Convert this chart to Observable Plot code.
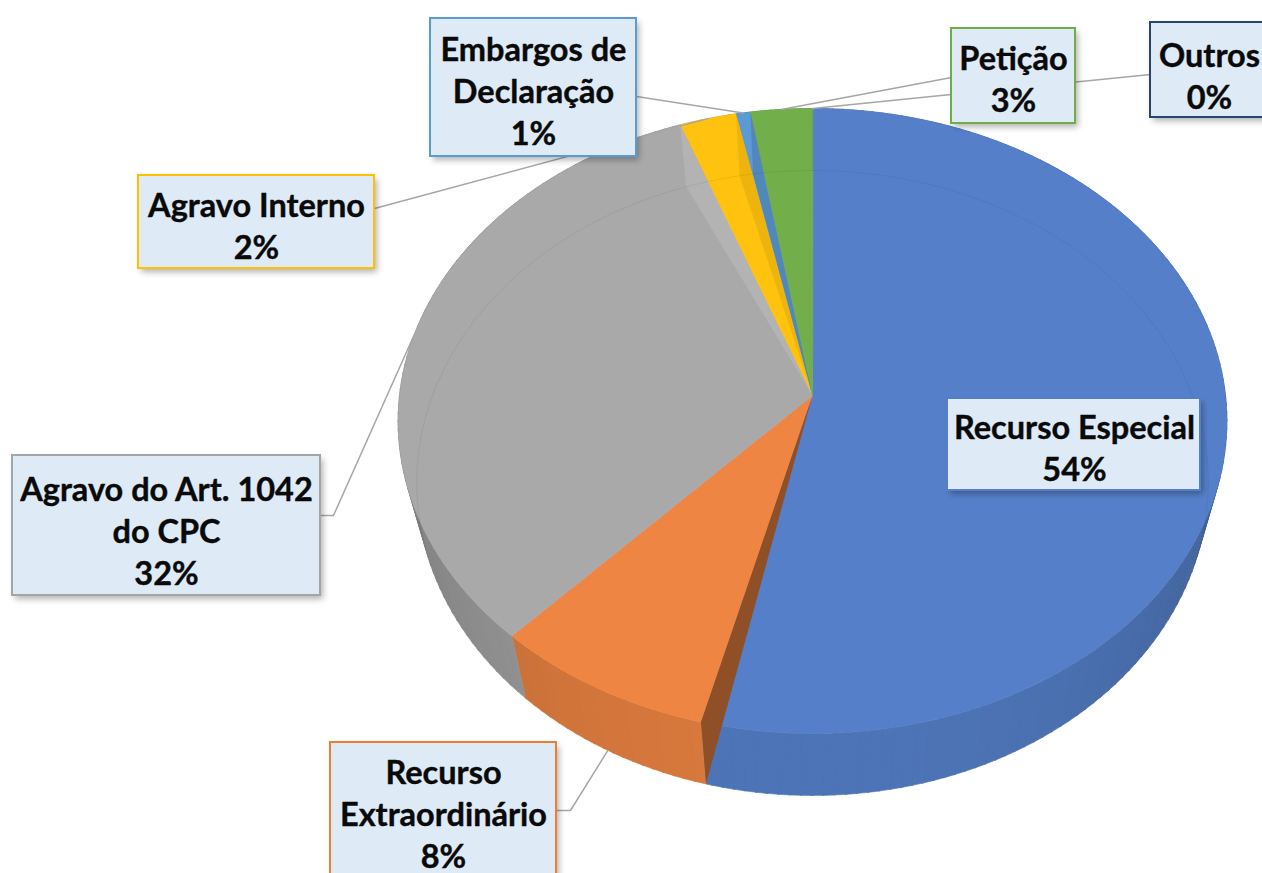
<!DOCTYPE html>
<html>
<head>
<meta charset="utf-8">
<script src="https://cdn.jsdelivr.net/npm/d3@7"></script>
<script src="https://cdn.jsdelivr.net/npm/@observablehq/plot@0.6"></script>
<style>
  html, body { margin: 0; padding: 0; background: #fff; overflow: hidden; }
  #chart svg { display: block; }
</style>
</head>
<body>
<div id="chart"></div>
<script>
// ---------- data ----------
const categories = ["Recurso Especial", "Recurso Extraordinário", "Agravo do Art. 1042 do CPC", "Agravo Interno", "Embargos de Declaração", "Petição", "Outros"];
const shares = [54.0, 8.0, 32.4, 2.4, 0.6, 2.6, 0.0];
const labelLines = ["Recurso Especial", "Recurso\nExtraordinário", "Agravo do Art. 1042\ndo CPC", "Agravo Interno", "Embargos de\nDeclaração", "Petição", "Outros"];

// ---------- styles ----------
const faceColors = ["#5580c9", "#ee8543", "#a9a9a9", "#ffc20e", "#5b9bd5", "#72ae49", "#264478"];
const borderColors = ["#5580c9", "#ed7d31", "#a5a5a5", "#ffc000", "#5b9bd5", "#70ad47", "#264478"];

// ---------- layout (pixels) ----------
const W = 1262, H = 873;
const cx = 812, cy = 395, rx = 413, ry = 310.4, persp = 0.0816, depth = 62, shrink = 0.955;
// label boxes: [x1, y1, x2, y2], text centre, label-side leader points
const labelLayout = [
  {box: [947, 398, 1200, 490], center: [1074, 446], leader: null},
  {box: [330, 742, 556, 900], center: [443, 812], leader: [[556, 810], [570, 810]], bottomRim: true},
  {box: [12, 455, 320, 595], center: [166, 529], leader: [[320, 515], [333, 515]]},
  {box: [138, 175, 374, 268], center: [256, 224], leader: [[374, 208]]},
  {box: [430, 18, 636, 156], center: [533, 89], leader: [[636, 96]]},
  {box: [951, 28, 1075, 123], center: [1013, 77], leader: [[951, 77]]},
  {box: [1150, 22, 1280, 117], center: [1209, 74], leader: [[1150, 74]]}
];

// ---------- geometry from data ----------
function topPt(t) {
  const u = Math.sin(t), v = Math.cos(t), s = 1 + persp * v;
  return [cx + rx * u / s, cy - ry * v / s];
}
function botPt(t) {
  const [x, y] = topPt(t);
  return [cx + (x - cx) * shrink, y + depth];
}
function shade(col, k) {
  const c = d3.rgb(col);
  return d3.rgb(c.r * k, c.g * k, c.b * k).formatHex();
}
const total = d3.sum(shares);
let acc = 0;
const slices = categories.map((name, i) => {
  const a0 = acc / total * 2 * Math.PI;
  acc += shares[i];
  const a1 = acc / total * 2 * Math.PI;
  return {name, i, a0, a1, value: shares[i]};
});
function arcPts(a0, a1, fn) {
  const n = Math.max(2, Math.ceil((a1 - a0) / (Math.PI / 360)) + 1);
  return d3.range(n).map(k => fn(a0 + (a1 - a0) * k / (n - 1)));
}

// side band segments with simple lighting
const sidePts = [];
slices.forEach(s => {
  if (s.a1 - s.a0 <= 0) return;
  const step = Math.PI / 120;
  for (let t = s.a0; t < s.a1 - 1e-9; t += step) {
    const t1 = Math.min(s.a1, t + step + 0.003);
    const tm = (t + t1) / 2;
    const v = Math.cos(tm);
    const k = v < 0 ? 0.7 + 0.21 * (-v) : 0.7;
    const color = shade(faceColors[s.i], k);
    const id = s.name + "-" + t.toFixed(4);
    [topPt(t), topPt(t1), botPt(t1), botPt(t)].forEach(([x, y]) => sidePts.push({id, x, y, color}));
  }
});

// top faces
const facePts = [];
slices.forEach(s => {
  if (s.a1 - s.a0 <= 0) return;
  const color = faceColors[s.i];
  facePts.push({id: s.name, x: cx, y: cy, color});
  arcPts(s.a0, s.a1, topPt).forEach(([x, y]) => facePts.push({id: s.name, x, y, color}));
});

// visible radial walls (thin slivers)
const wallSpecs = [
  {boundaryAfter: 0, colorOf: 1, k: 0.6},
  {boundaryAfter: 2, colorOf: 2, k: 1.06},
  {boundaryAfter: 3, colorOf: 3, k: 0.93},
  {boundaryAfter: 4, colorOf: 4, k: 0.88}
];
const wallPts = [];
wallSpecs.forEach((w, j) => {
  const t = slices[w.boundaryAfter].a1;
  const color = shade(faceColors[w.colorOf], w.k);
  [[cx, cy], topPt(t), botPt(t)].forEach(([x, y]) => wallPts.push({id: "w" + j, x, y, color}));
});

// faint see-through bottom rim at the back
const rimPts = arcPts(Math.PI * 1.42, Math.PI * 2.58, botPt).map(([x, y]) => ({x, y}));

// leaders
const leaderPts = [];
slices.forEach(s => {
  const L = labelLayout[s.i];
  if (!L.leader) return;
  const mid = (s.a0 + s.a1) / 2;
  const end = L.bottomRim ? botPt(mid) : topPt(mid);
  [...L.leader, end].forEach(([x, y]) => leaderPts.push({id: s.name, x, y}));
});

// labels
const labels = slices.map(s => {
  const L = labelLayout[s.i];
  const [x1, y1, x2, y2] = L.box;
  return {
    x1, y1, x2, y2,
    stroke: borderColors[s.i],
    text: labelLines[s.i] + "\n" + Math.round(s.value) + "%",
    tx: L.center[0], ty: L.center[1]
  };
});

const plot = Plot.plot({
  width: W, height: H,
  margin: 0,
  x: {domain: [0, W], range: [0, W], axis: null},
  y: {domain: [0, H], range: [0, H], axis: null},
  color: {type: "identity"},
  style: {background: "#fff", overflow: "hidden"},
  marks: [
    Plot.line(sidePts, {x: "x", y: "y", z: "id", fill: "color", stroke: "color", strokeWidth: 0.6, curve: "linear-closed"}),
    Plot.line(facePts, {x: "x", y: "y", z: "id", fill: "color", stroke: "color", strokeWidth: 0.6, curve: "linear-closed"}),
    Plot.line(wallPts, {x: "x", y: "y", z: "id", fill: "color", stroke: "none", curve: "linear-closed"}),
    Plot.line(rimPts, {x: "x", y: "y", stroke: "#000", strokeOpacity: 0.06, strokeWidth: 1}),
    Plot.line(leaderPts, {x: "x", y: "y", z: "id", stroke: "#a6a6a6", strokeWidth: 1.5}),
    Plot.rect(labels, {x1: d => d.x1 + 3, x2: d => d.x2 + 3, y1: d => d.y1 + 4, y2: d => d.y2 + 4, fill: "#000", fillOpacity: 0.3}),
    Plot.rect(labels, {x1: "x1", x2: "x2", y1: "y1", y2: "y2", fill: "#deebf7", stroke: "stroke", strokeWidth: 2}),
    Plot.text(labels, {x: "tx", y: "ty", text: "text", fontSize: 32.5, fontWeight: "bold", fontFamily: "Lato, 'Open Sans', sans-serif", lineHeight: 1.29, lineAnchor: "middle", fill: "#0a0a0a", stroke: "#0a0a0a", strokeWidth: 0.4})
  ]
});

// soft shadow for label boxes
const svgNS = "http://www.w3.org/2000/svg";
const defs = document.createElementNS(svgNS, "defs");
defs.innerHTML = '<filter id="soft" x="-10%" y="-10%" width="130%" height="130%"><feGaussianBlur stdDeviation="3"/></filter>';
plot.insertBefore(defs, plot.firstChild);
const rectGroups = plot.querySelectorAll('g[aria-label="rect"]');
if (rectGroups.length) rectGroups[0].setAttribute("filter", "url(#soft)");

document.getElementById("chart").appendChild(plot);
</script>
</body>
</html>
